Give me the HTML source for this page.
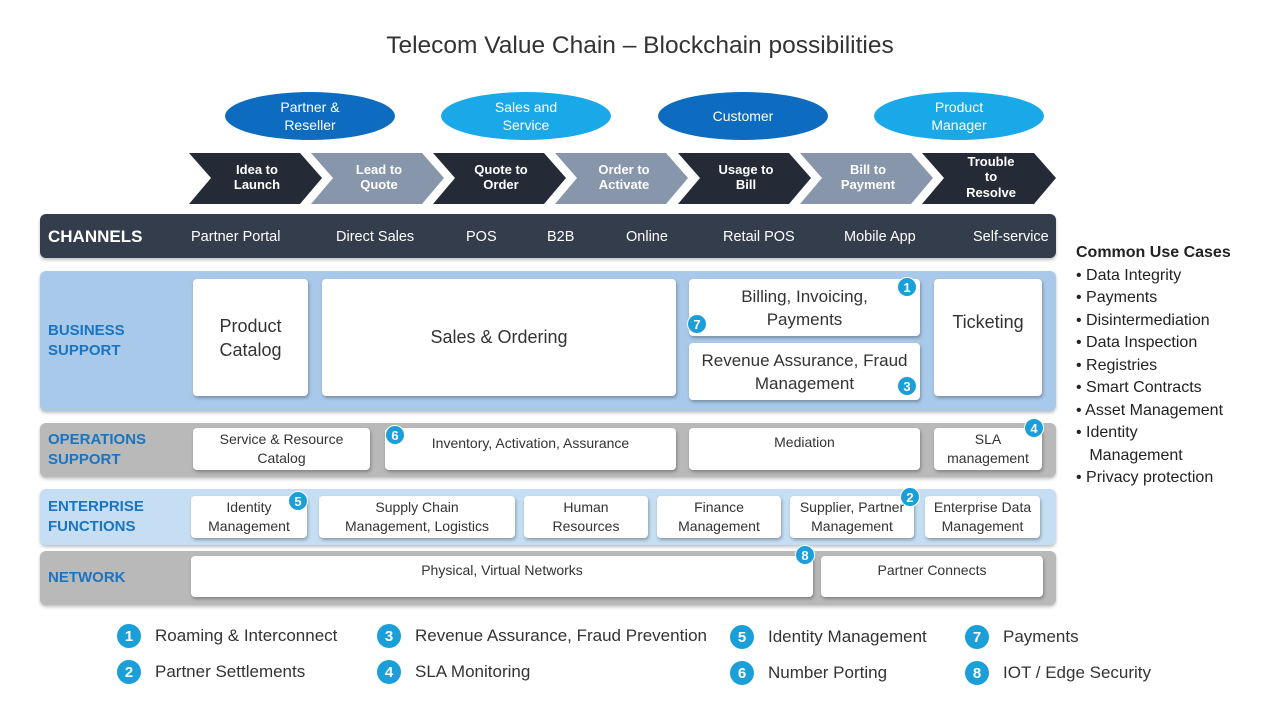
<!DOCTYPE html>
<html><head><meta charset="utf-8"><style>
body{margin:0;width:1280px;height:720px;background:#fff;font-family:"Liberation Sans",sans-serif;position:relative;overflow:hidden}
div{box-sizing:border-box}
.a{position:absolute}
.t{position:absolute;display:flex;align-items:center;justify-content:center;text-align:center}
.el{border-radius:50%;color:#fff;font-size:14px;line-height:18px}
.band{border-radius:6px;box-shadow:0 2px 3px rgba(0,0,0,.25)}
.lab{position:absolute;left:8px;color:#1a74c0;font-weight:bold;font-size:15px;line-height:20px}
.bx{background:#fff;border-radius:4px;box-shadow:1px 2px 3px rgba(0,0,0,.3);color:#333;text-align:center;display:flex;align-items:center;justify-content:center;position:absolute;line-height:19px}
.bd{position:absolute;width:20px;height:20px;border-radius:50%;background:#1a9fd9;color:#fff;font-weight:bold;font-size:13px;display:flex;align-items:center;justify-content:center;border:1.5px solid #fff}
.lg{position:absolute;font-size:17px;color:#333;display:flex;align-items:center}
.lg span{width:24px;height:24px;border-radius:50%;background:#1a9fd9;color:#fff;font-weight:bold;font-size:15px;display:inline-flex;align-items:center;justify-content:center;margin-right:14px}
</style></head><body>
<div class="t" style="left:0;width:1280px;top:30px;height:32px;font-size:24.5px;color:#333">Telecom Value Chain – Blockchain possibilities</div>

<div class="t el" style="left:225px;top:92px;width:170px;height:48px;background:#0d6cbf">Partner &amp;<br>Reseller</div>
<div class="t el" style="left:441px;top:92px;width:170px;height:48px;background:#1aa9e8">Sales and<br>Service</div>
<div class="t el" style="left:658px;top:92px;width:170px;height:48px;background:#0d6cbf">Customer</div>
<div class="t el" style="left:874px;top:92px;width:170px;height:48px;background:#1aa9e8">Product<br>Manager</div>

<svg class="a" style="left:0;top:0" width="1280" height="720">
<g>
<polygon points="189,153 300,153 322,178 300,204 189,204 211,178" fill="#242b37"/>
<polygon points="311,153 422,153 444,178 422,204 311,204 333,178" fill="#8796ab"/>
<polygon points="433,153 544,153 566,178 544,204 433,204 455,178" fill="#242b37"/>
<polygon points="555,153 666,153 688,178 666,204 555,204 577,178" fill="#8796ab"/>
<polygon points="678,153 789,153 811,178 789,204 678,204 700,178" fill="#242b37"/>
<polygon points="800,153 911,153 933,178 911,204 800,204 822,178" fill="#8796ab"/>
<polygon points="922,153 1034,153 1056,178 1034,204 922,204 944,178" fill="#242b37"/>
</g>
<g fill="#fff" font-family="Liberation Sans,sans-serif" font-weight="bold" font-size="13" text-anchor="middle">
<text x="257" y="174">Idea to</text><text x="257" y="189">Launch</text>
<text x="379" y="174">Lead to</text><text x="379" y="189">Quote</text>
<text x="501" y="174">Quote to</text><text x="501" y="189">Order</text>
<text x="624" y="174">Order to</text><text x="624" y="189">Activate</text>
<text x="746" y="174">Usage to</text><text x="746" y="189">Bill</text>
<text x="868" y="174">Bill to</text><text x="868" y="189">Payment</text>
<text x="991" y="166">Trouble</text><text x="991" y="181">to</text><text x="991" y="197">Resolve</text>
</g>
</svg>

<div class="a band" style="left:40px;top:214px;width:1016px;height:44px;background:#343d4c"></div>
<div class="a" style="left:48px;top:227px;color:#fff;font-weight:bold;font-size:17px">CHANNELS</div>
<div class="a" style="top:229px;left:0;width:1280px;color:#fff;font-size:14.5px">
<span class="a" style="left:191px">Partner Portal</span><span class="a" style="left:336px">Direct Sales</span><span class="a" style="left:466px">POS</span><span class="a" style="left:547px">B2B</span><span class="a" style="left:626px">Online</span><span class="a" style="left:723px">Retail POS</span><span class="a" style="left:844px">Mobile App</span><span class="a" style="left:973px">Self-service</span></div>

<div class="a band" style="left:40px;top:271px;width:1016px;height:140px;background:#a9c9ea"><div class="lab" style="top:50px">BUSINESS<br>SUPPORT</div></div>
<div class="bx" style="left:193px;top:279px;width:115px;height:117px;font-size:18px;line-height:24px">Product<br>Catalog</div>
<div class="bx" style="left:322px;top:279px;width:354px;height:117px;font-size:18px">Sales &amp; Ordering</div>
<div class="bx" style="left:689px;top:279px;width:231px;height:57px;font-size:17px;line-height:23px">Billing, Invoicing,<br>Payments</div>
<div class="bx" style="left:689px;top:343px;width:231px;height:57px;font-size:17px;line-height:23px">Revenue Assurance, Fraud<br>Management</div>
<div class="bx" style="left:934px;top:279px;width:108px;height:117px;font-size:18px;padding-bottom:30px">Ticketing</div>
<div class="bd" style="left:897px;top:277px">1</div>
<div class="bd" style="left:687px;top:314px">7</div>
<div class="bd" style="left:897px;top:376px">3</div>

<div class="a band" style="left:40px;top:423px;width:1016px;height:54px;background:#b9b9b9"><div class="lab" style="top:7px">OPERATIONS<br>SUPPORT</div></div>
<div class="bx" style="left:193px;top:428px;width:177px;height:42px;font-size:14px">Service &amp; Resource<br>Catalog</div>
<div class="bx" style="left:385px;top:428px;width:291px;height:42px;font-size:14px;align-items:flex-start;padding-top:6px">Inventory, Activation, Assurance</div>
<div class="bx" style="left:689px;top:428px;width:231px;height:42px;font-size:14px;align-items:flex-start;padding-top:5px">Mediation</div>
<div class="bx" style="left:934px;top:428px;width:108px;height:42px;font-size:14px">SLA<br>management</div>
<div class="bd" style="left:385px;top:425px">6</div>
<div class="bd" style="left:1024px;top:418px">4</div>

<div class="a band" style="left:40px;top:489px;width:1016px;height:56px;background:#c5def3"><div class="lab" style="top:8px">ENTERPRISE<br>FUNCTIONS</div></div>
<div class="bx" style="left:191px;top:496px;width:116px;height:42px;font-size:14px">Identity<br>Management</div>
<div class="bx" style="left:319px;top:496px;width:196px;height:42px;font-size:14px">Supply Chain<br>Management, Logistics</div>
<div class="bx" style="left:524px;top:496px;width:124px;height:42px;font-size:14px">Human<br>Resources</div>
<div class="bx" style="left:657px;top:496px;width:124px;height:42px;font-size:14px">Finance<br>Management</div>
<div class="bx" style="left:790px;top:496px;width:124px;height:42px;font-size:14px">Supplier, Partner<br>Management</div>
<div class="bx" style="left:925px;top:496px;width:115px;height:42px;font-size:14px">Enterprise Data<br>Management</div>
<div class="bd" style="left:288px;top:491px">5</div>
<div class="bd" style="left:900px;top:487px">2</div>

<div class="a band" style="left:40px;top:551px;width:1016px;height:54px;background:#b9b9b9"><div class="lab" style="top:17px">NETWORK</div></div>
<div class="bx" style="left:191px;top:556px;width:622px;height:41px;font-size:14px;align-items:flex-start;padding-top:5px">Physical, Virtual Networks</div>
<div class="bx" style="left:821px;top:556px;width:222px;height:41px;font-size:14px;align-items:flex-start;padding-top:5px">Partner Connects</div>
<div class="bd" style="left:795px;top:545px">8</div>

<div class="lg" style="left:117px;top:624px"><span>1</span>Roaming &amp; Interconnect</div>
<div class="lg" style="left:117px;top:660px"><span>2</span>Partner Settlements</div>
<div class="lg" style="left:377px;top:624px"><span>3</span>Revenue Assurance, Fraud Prevention</div>
<div class="lg" style="left:377px;top:660px"><span>4</span>SLA Monitoring</div>
<div class="lg" style="left:730px;top:625px"><span>5</span>Identity Management</div>
<div class="lg" style="left:730px;top:661px"><span>6</span>Number Porting</div>
<div class="lg" style="left:965px;top:625px"><span>7</span>Payments</div>
<div class="lg" style="left:965px;top:661px"><span>8</span>IOT / Edge Security</div>

<div class="a" style="left:1076px;top:242px;font-size:16px;color:#222;line-height:22.5px">
<div style="font-weight:bold">Common Use Cases</div>
<div>• Data Integrity</div><div>• Payments</div><div>• Disintermediation</div><div>• Data Inspection</div><div>• Registries</div><div>• Smart Contracts</div><div>• Asset Management</div><div>• Identity<br>&nbsp;&nbsp;&nbsp;Management</div><div>• Privacy protection</div>
</div>
</body></html>
